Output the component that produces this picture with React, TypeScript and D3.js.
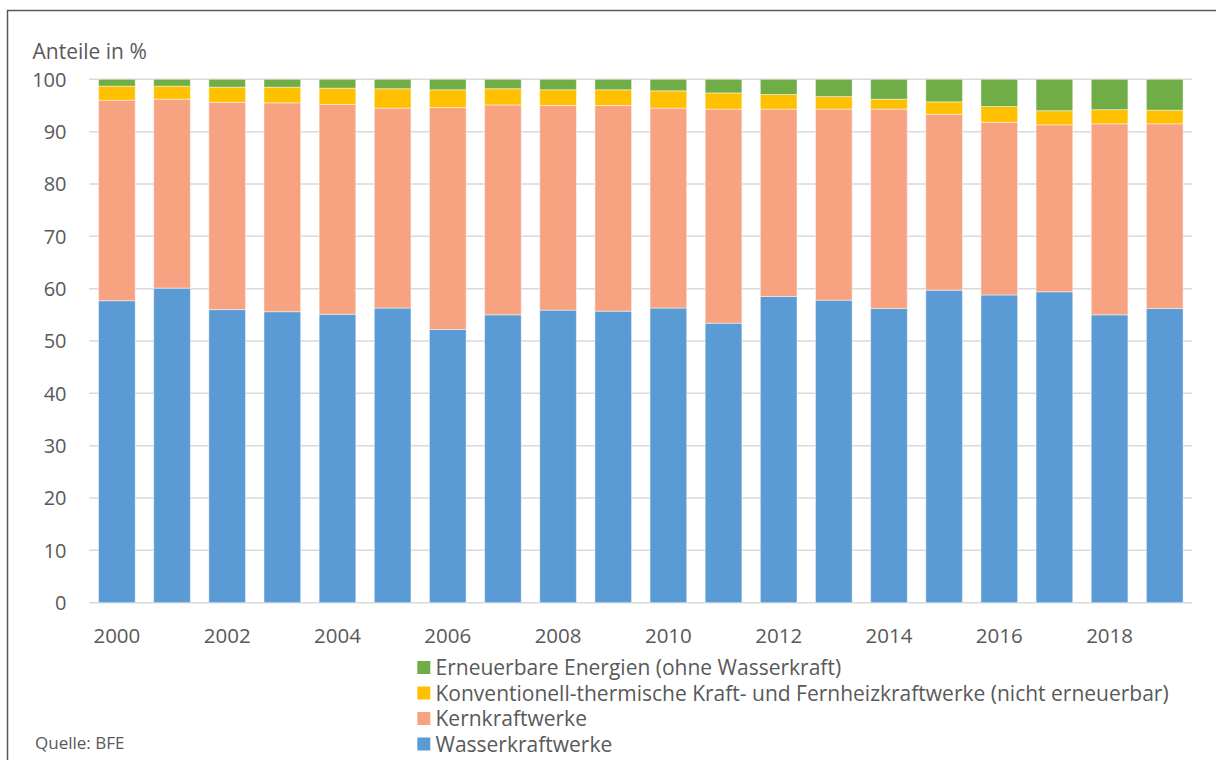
import React from "react";
import * as d3 from "d3";

// Shares of Swiss electricity production by source, in percent
const years = [2000, 2001, 2002, 2003, 2004, 2005, 2006, 2007, 2008, 2009, 2010, 2011, 2012, 2013, 2014, 2015, 2016, 2017, 2018, 2019];
const wasserkraft = [57.7, 60.1, 56.0, 55.6, 55.1, 56.3, 52.2, 55.0, 55.9, 55.7, 56.3, 53.4, 58.5, 57.8, 56.2, 59.7, 58.8, 59.4, 55.0, 56.2];
const kernkraft = [38.3, 36.1, 39.6, 39.9, 40.1, 38.2, 42.4, 40.1, 39.1, 39.3, 38.2, 40.9, 35.8, 36.5, 38.1, 33.6, 33.0, 31.9, 36.5, 35.3];
const konventionell = [2.7, 2.5, 2.9, 3.0, 3.1, 3.7, 3.4, 3.1, 3.0, 3.0, 3.3, 3.1, 2.8, 2.4, 1.9, 2.4, 3.0, 2.7, 2.7, 2.6];
const erneuerbar = [1.3, 1.3, 1.5, 1.5, 1.7, 1.8, 2.0, 1.8, 2.0, 2.0, 2.2, 2.6, 2.9, 3.3, 3.8, 4.3, 5.2, 6.0, 5.8, 5.9];

const yTicks = [0, 10, 20, 30, 40, 50, 60, 70, 80, 90, 100];
const xTickYears = [2000, 2002, 2004, 2006, 2008, 2010, 2012, 2014, 2016, 2018];

const seriesKeys = ["wasser", "kern", "konv", "ern"];
const seriesColors: Record<string, string> = {
  wasser: "#5B9BD5",
  kern: "#F7A382",
  konv: "#FFC000",
  ern: "#70AD47",
};
// legend order top to bottom
const legendItems = [
  { key: "ern", label: "Erneuerbare Energien (ohne Wasserkraft)" },
  { key: "konv", label: "Konventionell-thermische Kraft- und Fernheizkraftwerke (nicht erneuerbar)" },
  { key: "kern", label: "Kernkraftwerke" },
  { key: "wasser", label: "Wasserkraftwerke" },
];

const W = 1216;
const H = 760;
const FONT = "'Open Sans', 'DejaVu Sans', sans-serif";
const TEXT = "#595959";

export default function App() {
  const rows = years.map((y, i) => ({
    year: String(y),
    wasser: wasserkraft[i],
    kern: kernkraft[i],
    konv: konventionell[i],
    ern: erneuerbar[i],
  }));

  const stack = d3.stack<any>().keys(seriesKeys)(rows);

  const x = d3
    .scaleBand<string>()
    .domain(years.map(String))
    .range([89.3, 1192.3])
    .paddingInner(0.335)
    .paddingOuter(0.1675);

  const y = d3.scaleLinear().domain([0, 100]).range([602.7, 79.3]);

  const legendBase = [675, 700.5, 726, 751.5];

  return (
    <svg
      width={W}
      height={H}
      viewBox={`0 0 ${W} ${H}`}
      style={{ position: "absolute", left: 0, top: 0, background: "#fff" }}
      fontFamily={FONT}
    >
      <rect x={0} y={0} width={W} height={H} fill="#fff" />
      {/* outer frame (left and top edges) */}
      <path d={`M7.5,${H} V10.5 H${W}`} fill="none" stroke="#595959" strokeWidth={1.5} />

      {/* gridlines */}
      {yTicks.map((t) => (
        <line
          key={t}
          x1={89.3}
          x2={1192.3}
          y1={y(t)}
          y2={y(t)}
          stroke="#D9D9D9"
          strokeWidth={1.5}
        />
      ))}

      {/* stacked bars */}
      {stack.map((layer) => (
        <g key={layer.key} fill={seriesColors[layer.key]}>
          {layer.map((d: any, i: number) => (
            <rect
              key={i}
              x={x(d.data.year)}
              width={x.bandwidth()}
              y={y(d[1])}
              height={y(d[0]) - y(d[1])}
              stroke="#ffffff"
              strokeOpacity={0.45}
              strokeWidth={1}
            />
          ))}
        </g>
      ))}

      {/* y tick labels */}
      {yTicks.map((t) => (
        <text
          key={t}
          x={66.5}
          y={y(t)}
          dy="0.36em"
          textAnchor="end"
          fontSize={20}
          fill={TEXT}
        >
          {t}
        </text>
      ))}

      {/* x tick labels */}
      {xTickYears.map((yr) => (
        <text
          key={yr}
          x={(x(String(yr)) as number) + x.bandwidth() / 2}
          y={642.5}
          textAnchor="middle"
          fontSize={20.5}
          fill={TEXT}
        >
          {yr}
        </text>
      ))}

      <text x={32.5} y={59.3} fontSize={21} fill={TEXT}>
        Anteile in %
      </text>

      {/* legend */}
      {legendItems.map((it, i) => {
        const base = legendBase[i];
        return (
          <g key={it.key}>
            <rect x={417.3} y={base - 14} width={13} height={13} fill={seriesColors[it.key]} />
            <text x={435.5} y={base} fontSize={21} fill={TEXT}>
              {it.label}
            </text>
          </g>
        );
      })}

      <text x={35} y={749} fontSize={17} fill={TEXT}>
        Quelle: BFE
      </text>
    </svg>
  );
}
